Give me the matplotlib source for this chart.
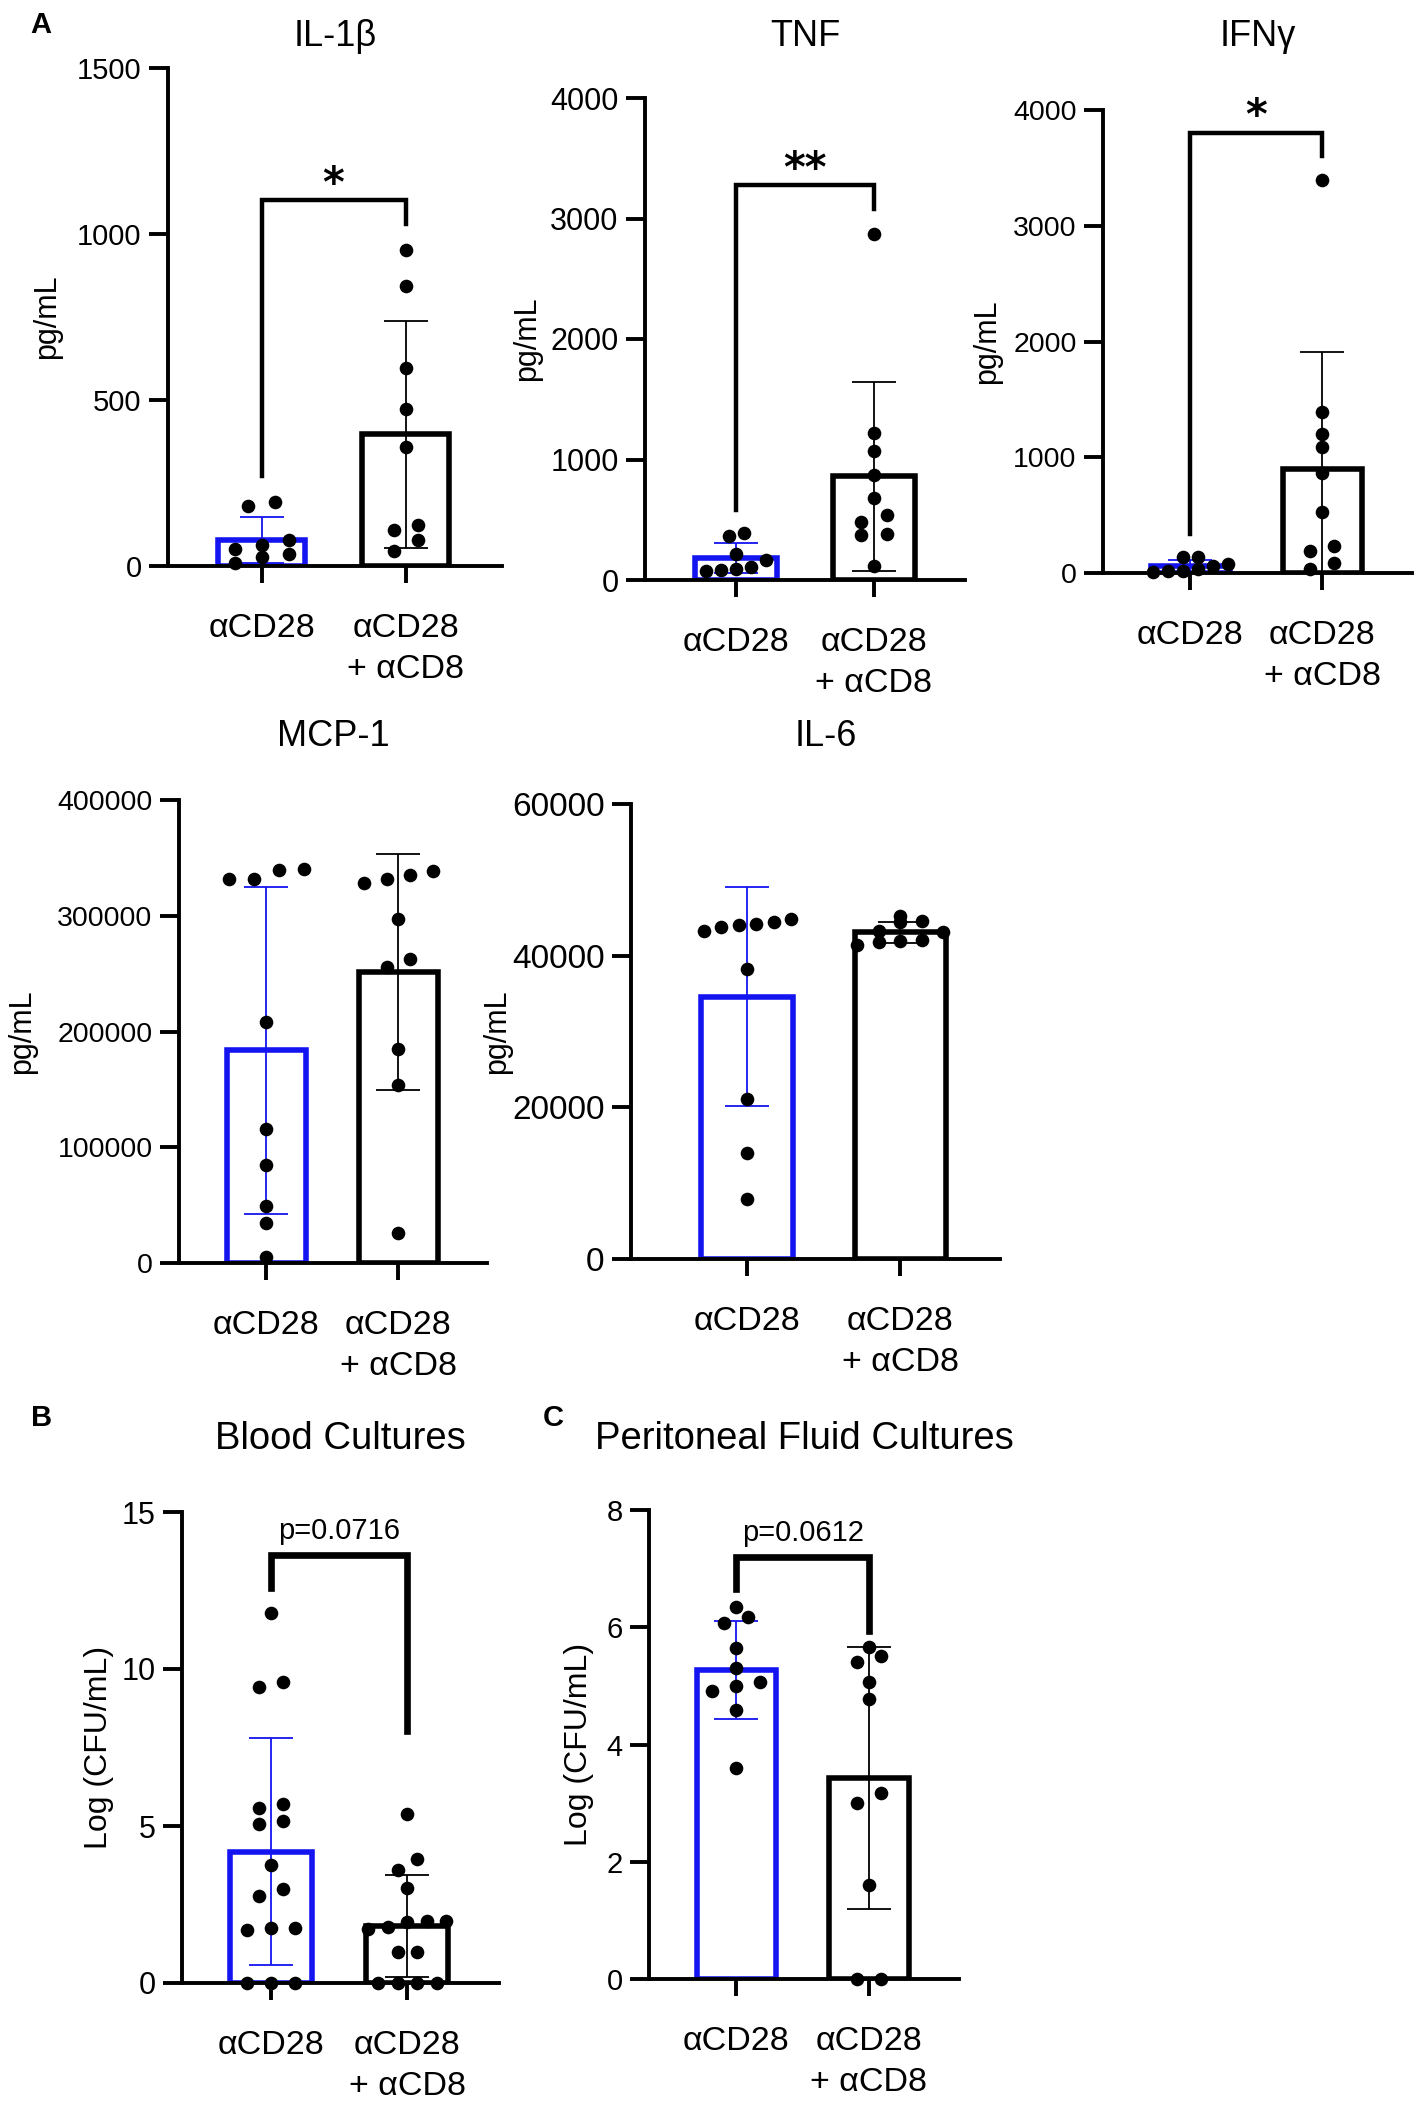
import numpy as np, matplotlib
matplotlib.use("Agg"); import matplotlib.pyplot as plt
from matplotlib.ticker import StrMethodFormatter

plt.rcParams["font.family"] = ["Liberation Sans", "DejaVu Sans"]

groups = ["αCD28", "αCD28\n+ αCD8"]

# cytokines, pg/mL, one dot per animal
il1b_ctrl = [181, 192, 50, 10, 64, 26, 77, 36]
il1b_cd8 = [951, 843, 595, 473, 358, 108, 122, 77, 46]
tnf_ctrl = [82, 212, 361, 387, 164, 89, 74, 112]
tnf_cd8 = [2868, 1218, 1069, 871, 678, 536, 372, 119, 484, 380]
ifng_ctrl = [136, 19, 74, 136, 19, 58, 8, 35]
ifng_cd8 = [3399, 1391, 1198, 1085, 860, 531, 190, 233, 85, 35]
mcp1_ctrl = [331500, 339200, 331500, 340000, 208300, 115400, 84400, 49600, 34900, 5000]
mcp1_cd8 = [335300, 338800, 331500, 328400, 297400, 262500, 255900, 185100, 154100, 26300]
il6_ctrl = [43830, 44190, 43240, 44420, 44780, 44010, 38260, 21090, 13920, 7880]
il6_cd8 = [45190, 44420, 44600, 43120, 43300, 41760, 41940, 42050, 41460]
# bacterial load, log CFU/mL
blood_ctrl = [11.78, 9.44, 9.58, 5.56, 5.71, 5.05, 5.17, 3.75, 2.77, 2.99, 1.74, 1.68, 1.74, 0, 0, 0]
blood_cd8 = [5.37, 3.96, 3.6, 3.02, 1.97, 1.79, 1.93, 1.71, 1.97, 0.99, 0.99, 0, 0, 0, 0]
perit_ctrl = [6.35, 6.17, 6.08, 5.65, 5.3, 5.07, 4.99, 4.92, 4.58, 3.6]
perit_cd8 = [5.67, 5.41, 5.51, 5.07, 4.78, 3.17, 3.01, 1.6, 0, 0]

W, H = 1417, 2103
BLUE = "#1414f0"

# layout in pixels: axes box (left, right, top, bottom), ylabel x, title y
panels = [
    dict(ctrl=il1b_ctrl, cd8=il1b_cd8, title="IL-1β", ylab="pg/mL", ymax=1500, ystep=500,
         box=(168, 502, 68, 566), xlim=(-0.65, 1.67), ylab_x=47, title_y=36, tfs=21,
         step=(27, 24), sig="*", bracket=(1101, 270, 1030), blw=3.2),
    dict(ctrl=tnf_ctrl, cd8=tnf_cd8, title="TNF", ylab="pg/mL", ymax=4000, ystep=1000,
         box=(645, 965, 98, 580), xlim=(-0.66, 1.66), ylab_x=527, title_y=36, tfs=22,
         step=(15, 26), sig="**", bracket=(3277, 585, 3080), blw=3.2),
    dict(ctrl=ifng_ctrl, cd8=ifng_cd8, title="IFNγ", ylab="pg/mL", ymax=4000, ystep=1000,
         box=(1103, 1412, 110, 573), xlim=(-0.66, 1.68), ylab_x=987, title_y=36, tfs=20.5,
         step=(15, 24), sig="*", bracket=(3802, 337, 3601), blw=3.2),
    dict(ctrl=mcp1_ctrl, cd8=mcp1_cd8, title="MCP-1", ylab="pg/mL", ymax=400000, ystep=100000,
         box=(179, 487, 800, 1263), xlim=(-0.66, 1.67), ylab_x=22, title_y=737, tfs=20.5,
         step=(25, 23)),
    dict(ctrl=il6_ctrl, cd8=il6_cd8, title="IL-6", ylab="pg/mL", ymax=60000, ystep=20000,
         box=(631, 1000, 804, 1259), xlim=(-0.76, 1.65), ylab_x=497, title_y=737, tfs=24,
         step=(17.5, 21.5), title_x=826),
    dict(ctrl=blood_ctrl, cd8=blood_cd8, title="Blood Cultures", ylab="Log (CFU/mL)", ymax=15,
         ystep=5, box=(182, 499, 1512, 1983), xlim=(-0.65, 1.67), ylab_x=99, title_y=1439,
         tfs=22, step=(24, 19.5), sig="p=0.0716", bracket=(13.62, 12.57, 8.03), blw=4.8),
    dict(ctrl=perit_ctrl, cd8=perit_cd8, title="Peritoneal Fluid Cultures", ylab="Log (CFU/mL)",
         ymax=8, ystep=2, box=(649, 959, 1510, 1979), xlim=(-0.66, 1.68), ylab_x=579,
         title_y=1439, tfs=21, step=(24, 24), sig="p=0.0612", bracket=(7.19, 6.65, 5.93),
         blw=4.8),
]


def swarm_x(ax, xc, vals, step_px, thr_px=13):
    """GraphPad-like scatter: dots within thr_px vertically share a row, spread symmetrically."""
    vals = np.asarray(vals, float)
    y_px = ax.transData.transform(np.c_[np.zeros_like(vals), vals])[:, 1]
    px_per_x = ax.transData.transform((1, 0))[0] - ax.transData.transform((0, 0))[0]
    order = np.argsort(y_px, kind="stable")
    xs = np.full(len(vals), float(xc))
    i = 0
    while i < len(order):
        j = i
        while j + 1 < len(order) and y_px[order[j + 1]] - y_px[order[i]] < thr_px:
            j += 1
        row = order[i:j + 1]
        xs[row] = xc + (np.arange(len(row)) - (len(row) - 1) / 2) * step_px / px_per_x
        i = j + 1
    return xs


fig = plt.figure(figsize=(W / 100, H / 100), dpi=100)

for p in panels:
    l, r, t, b = p["box"]
    ax = fig.add_axes([l / W, 1 - b / H, (r - l) / W, (b - t) / H])
    ax.set_xlim(*p["xlim"])
    ax.set_ylim(0, p["ymax"])
    for s in ("top", "right"):
        ax.spines[s].set_visible(False)
    for s in ("left", "bottom"):
        ax.spines[s].set_linewidth(2.8)

    for i, (vals, col) in enumerate(((p["ctrl"], BLUE), (p["cd8"], "black"))):
        v = np.asarray(vals, float)
        m, sd = v.mean(), v.std(ddof=1)
        ax.bar(i, m, width=0.6, facecolor="white", edgecolor=col, linewidth=4.0, zorder=1)
        ax.errorbar(i, m, yerr=sd, fmt="none", ecolor=col, elinewidth=1.3,
                    capsize=16, capthick=1.3, zorder=2)
        xs = swarm_x(ax, i, v, p["step"][i])
        ax.plot(xs, v, "o", color="black", markersize=9.8, markeredgewidth=0,
                zorder=3, clip_on=False)

    if "sig" in p:
        top, le, re = p["bracket"]
        ax.plot([0, 0, 1, 1], [le, top, top, re], color="black", lw=p["blw"],
                solid_joinstyle="miter", clip_on=False, zorder=4)
        if p["sig"].startswith("*"):
            ax.annotate(p["sig"], (0.5, top), xytext=(0, 2.5), textcoords="offset points",
                        ha="center", va="baseline", fontsize=30, fontweight="bold",
                        family="DejaVu Sans", annotation_clip=False)
        else:
            ax.annotate(p["sig"], (0.5, top), xytext=(0, 12), textcoords="offset points",
                        ha="center", va="baseline", fontsize=21, annotation_clip=False)

    ax.set_xticks([0, 1], groups)
    ax.set_yticks(np.arange(0, p["ymax"] + p["ystep"] / 2, p["ystep"]))
    ax.yaxis.set_major_formatter(StrMethodFormatter("{x:.0f}"))
    ax.tick_params(axis="y", length=14, width=2.8, pad=5, labelsize=p["tfs"])
    ax.tick_params(axis="x", length=12, width=2.8, pad=22, labelsize=24.5)
    for lab in ax.get_xticklabels():
        lab.set_linespacing(1.4)

    pos = ax.get_position()
    row3 = p["title_y"] > 1000
    tx = p["title_x"] / W if "title_x" in p else (pos.x0 + pos.x1) / 2
    fig.text(tx, 1 - p["title_y"] / H, p["title"], ha="center",
             va="center", fontsize=27.5 if row3 else 26)
    fig.text(p["ylab_x"] / W, (pos.y0 + pos.y1) / 2, p["ylab"], rotation=90,
             ha="center", va="center", fontsize=22 if p["ylab"] == "pg/mL" else 23)

for letter, (x, y) in zip("ABC", [(41, 25), (42, 1418), (553, 1418)]):
    fig.text(x / W, 1 - y / H, letter, ha="center", va="center", fontsize=21,
             fontweight="bold")

fig.savefig("out.png", dpi=100)
